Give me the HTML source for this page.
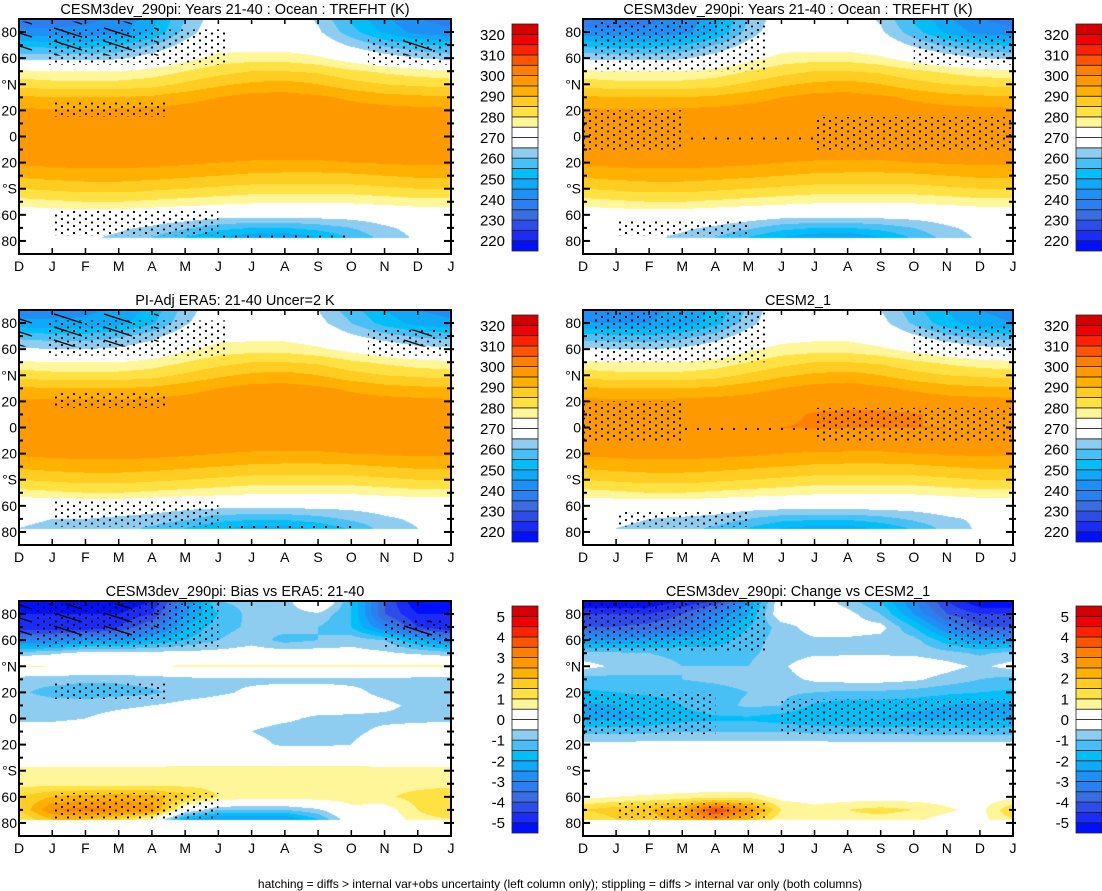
<!DOCTYPE html>
<html><head><meta charset="utf-8">
<style>
body{margin:0;background:#fff;width:1102px;height:891px;overflow:hidden;position:relative;font-family:"Liberation Sans",Arial,sans-serif}
canvas{position:absolute}
svg{position:absolute;left:0;top:0}
</style></head>
<body>
<canvas id="c0" width="432" height="235" style="left:19px;top:19px"></canvas>
<canvas id="c1" width="430" height="235" style="left:583px;top:19px"></canvas>
<canvas id="c2" width="432" height="235" style="left:19px;top:310px"></canvas>
<canvas id="c3" width="430" height="235" style="left:583px;top:310px"></canvas>
<canvas id="c4" width="432" height="235" style="left:19px;top:601px"></canvas>
<canvas id="c5" width="430" height="235" style="left:583px;top:601px"></canvas>
<svg id="ov" width="1102" height="891">
<defs>
<pattern id="dots" width="12" height="7" patternUnits="userSpaceOnUse"><circle cx="2" cy="2" r="1.1" fill="#000"/><circle cx="8" cy="5.5" r="1.1" fill="#000"/></pattern>
<pattern id="hatch" width="50" height="13" patternUnits="userSpaceOnUse"><line x1="4" y1="2" x2="32" y2="11" stroke="#000" stroke-width="1.4"/></pattern>
</defs>
<text x="560" y="888" text-anchor="middle" font-size="12">hatching = diffs &gt; internal var+obs uncertainty (left column only); stippling = diffs &gt; internal var only (both columns)</text>
</svg>
<script>
const lats=[90,80,70,60,50,40,30,20,10,0,-10,-20,-30,-40,-50,-60,-70,-77];
const months=["D","J","F","M","A","M","J","J","A","S","O","N","D","J"];
const tempTicks=["320","310","300","290","280","270","260","250","240","230","220"];
const diffTicks=["5","4","3","2","1","0","-1","-2","-3","-4","-5"];
const latLabels=["80","60","°N","20","0","20","°S","60","80"];
const titles=["CESM3dev_290pi: Years 21-40 : Ocean : TREFHT (K)","CESM3dev_290pi: Years 21-40 : Ocean : TREFHT (K)","PI-Adj ERA5: 21-40 Uncer=2 K","CESM2_1","CESM3dev_290pi: Bias vs ERA5: 21-40","CESM3dev_290pi: Change vs CESM2_1"];
const fieldA=[
[238,238,239,241,248,260,269,271,270,264,254,246,240,238],
[241,241,241,243,250,262,270,272,271,266,257,249,243,241],
[254,253,253,255,260,267,272,272,272,270,264,259,256,254],
[263,263,263,264,268,273,277,278,278,276,272,268,265,263],
[276,275,275,275,277,280,283,285,285,284,281,279,277,276],
[283,282,282,282,283,286,289,291,292,290,287,285,284,283],
[291,290,290,290,291,293,295,297,297,296,294,292,291,291],
[296,295.5,295.5,296,296.5,297,298,298.5,298.5,298.5,297.5,297,296.5,296],
[298,298,298,298,298,298,298.5,299,299,299,298.5,298,298,298],
[298.5,298.5,298.5,298.5,298.5,298.5,298.5,298.5,298.5,298.5,298.5,298.5,298.5,298.5],
[298,298,298,298,298,298,298,297.5,297,297,297.5,298,298,298],
[296,296.5,297,297,296.5,296,295,294.5,294.5,294.5,295,295.5,296,296],
[291,292,292.5,292.5,292,291,290,289,288.5,288.5,289,290,291,291],
[285,286,287,287,286,285,284,283,283,283,283,284,285,285],
[278,279,280,280,279,278,277,276,276,276,276,277,278,278],
[270,271,271,271,270,269,268,268,268,268,268,269,270,270],
[267,267,267,266,264,261,257,255,255,257,260,264,267,267],
[266,266,266,264,260,255,250,247,246,250,256,262,266,266]];
const fieldB=[
[238,238,239,241,248,260,269,271,270,264,254,246,240,238],
[241,241,241,243,250,262,270,272,271,266,257,249,243,241],
[254,253,253,255,260,267,272,272,272,270,264,259,256,254],
[264,263,263,264,268,273,277,278,278,276,272,268,265,264],
[276,275,275,275,277,280,283,285,285,284,281,279,277,276],
[283,282,282,282,283,286,289,291,292,290,287,285,284,283],
[291,290,290,290,291,293,295,297,297,296,294,292,291,291],
[296,295.5,295.5,296,296.5,297,298,298.5,298.5,298.5,297.5,297,296.5,296],
[298,298,298,298,298,298,298.5,299,299,299,298.5,298,298,298],
[298.5,298.5,298.5,298.5,298.5,298.5,298.5,298.5,298.5,298.5,298.5,298.5,298.5,298.5],
[298,298,298,298,298,298,298,297.5,297,297,297.5,298,298,298],
[296,296.5,297,297,296.5,296,295,294.5,294.5,294.5,295,295.5,296,296],
[291,292,292.5,292.5,292,291,290,289,288.5,288.5,289,290,291,291],
[285,286,287,287,286,285,284,283,283,283,283,284,285,285],
[278,279,280,280,279,278,277,276,276,276,276,277,278,278],
[270,271,271,271,270,269,268,268,268,268,268,269,270,270],
[267,267,267,266,264,261,257,255,255,257,260,264,267,267],
[266,266,266,264,260,255,250,247,246,250,256,262,266,266]];
const fieldC=[
[243,243,244,246,252,262,270,271,270,265,257,250,245,243],
[246,246,246,248,254,264,271,272,271,267,260,253,248,246],
[258,257,257,259,263,269,273,273,273,271,266,262,259,258],
[266,265,265,266,269,274,277,278,278,276,273,270,267,266],
[276,275,275,275,277,280,283,285,285,284,281,279,277,276],
[283,282,282,282,283,286,289,291,292,290,287,285,284,283],
[291,290,290,290,291,293,295,297,297,296,294,292,291,291],
[296,296,296,296,296.5,297,298,298.5,298.5,298.5,297.5,297,296.5,296],
[298,298,298,298,298,298,298.5,299,299,299,298.5,298,298,298],
[298.5,298.5,298.5,298.5,298.5,298.5,298.5,298.5,298.5,298.5,298.5,298.5,298.5,298.5],
[298,298,298,298,298,298,298,297.5,297,297,297.5,298,298,298],
[296,296.5,297,297,296.5,296,295,294.5,294.5,294.5,295,295.5,296,296],
[291,292,292.5,292.5,292,291,290,289,288.5,288.5,289,290,291,291],
[285,286,287,287,286,285,284,283,283,283,283,284,285,285],
[278,279,280,280,279,278,277,276,276,276,276,277,278,278],
[269,269,269,269,268,267,267,267,267,267,267,268,269,269],
[266,265,265,264,263,261,257,256,256,258,261,264,266,266],
[265,264,264,262,259,255,251,248,248,251,256,262,265,265]];
const fieldD=[
[243,243,244,246,251,261,270,271,270,265,257,250,245,243],
[245,245,245,247,253,263,270,272,271,267,259,252,247,245],
[257,256,256,258,262,268,272,273,273,271,266,261,258,257],
[266,265,265,266,269,274,277,278,278,276,273,270,267,266],
[276,275,275,275,277,280,283,285,285,284,281,279,277,276],
[283,282,282,282,283,286,289,291,292,290,287,285,284,283],
[291,290,290,290,291,293,295,297,297.5,296,294,292,291,291],
[296.5,296,296,296.5,297,297.5,298.5,299,299,299,298.5,297.5,297,296.5],
[299,299,299,299,299,299,299.5,300.2,300.5,300.5,300.2,299.5,299,299],
[299.5,299.5,299.5,299.5,299.5,299.5,300,300.2,300.2,300.2,300,300,299.5,299.5],
[298.5,298.5,298.5,298.5,298.5,298.5,298.5,298,297.5,297.5,298,298.5,298.5,298.5],
[296,296.5,297,297,296.5,296,295,294.5,294.5,294.5,295,295.5,296,296],
[291,292,292.5,292.5,292,291,290,289,288.5,288.5,289,290,291,291],
[285,286,287,287,286,285,284,283,283,283,283,284,285,285],
[278,279,280,280,279,278,277,276,276,276,276,277,278,278],
[270,270,270,270,269,268,268,268,268,268,268,269,270,270],
[266,266,265,264,263,260,257,256,256,258,261,264,266,266],
[266,265,264,262,259,255,250,248,248,251,256,262,266,266]];
const fieldE=[
[-5.5,-5.5,-5.5,-5.5,-5,-3,-1,-0.8,-0.8,0.6,-1.5,-4,-5.5,-5.5],
[-5,-5,-5,-5,-4.5,-2.5,-1.5,-0.8,-0.8,-0.6,-1.5,-4,-5,-5],
[-5,-5,-5,-4.5,-3.5,-2,-1.2,-0.9,-0.8,-1,-1.5,-3,-4.5,-5],
[-3,-3,-2.5,-2.5,-2,-1.5,-1,-0.7,-1.2,-1,-0.7,-1,-2,-3],
[-0.8,-0.6,-0.3,-0.3,-0.3,-0.3,-0.3,-0.2,-0.2,-0.2,-0.3,-0.4,-0.6,-0.8],
[0.6,0.5,0.2,0.3,0.4,0.6,0.6,0.6,0.6,0.6,0.6,0.6,0.6,0.6],
[-0.8,-0.8,-0.9,-0.9,-0.8,-0.7,-0.6,-0.6,-0.6,-0.6,-0.6,-0.6,-0.7,-0.8],
[-0.9,-1.2,-1.3,-1.2,-1.1,-0.8,-0.6,-0.4,-0.3,-0.3,-0.4,-0.6,-0.8,-0.9],
[-0.7,-0.7,-0.7,-0.6,-0.5,-0.3,-0.2,-0.2,-0.2,-0.2,-0.3,-0.4,-0.6,-0.7],
[-0.6,-0.6,-0.5,-0.3,-0.2,-0.2,-0.2,-0.3,-0.4,-0.6,-0.6,-0.6,-0.6,-0.6],
[-0.2,-0.2,-0.2,-0.2,-0.2,-0.2,-0.2,-0.5,-0.7,-0.7,-0.6,-0.4,-0.3,-0.2],
[-0.2,-0.2,-0.2,-0.2,-0.2,-0.2,-0.2,-0.3,-0.6,-0.6,-0.5,-0.2,-0.2,-0.2],
[0.2,0.2,0.2,0.2,0.2,0.2,0.2,0.2,0.2,0.2,0.2,0.2,0.2,0.2],
[0.6,0.6,0.6,0.6,0.6,0.7,0.7,0.7,0.7,0.7,0.7,0.6,0.6,0.6],
[0.8,0.8,0.8,0.8,0.8,0.8,0.8,0.8,0.8,0.8,0.8,0.8,0.8,0.8],
[1.5,2,2.2,2.3,2.2,1.7,1,0.8,0.8,0.8,0.8,0.9,1.2,1.5],
[1.5,3,3.2,3,2.8,0,-1,-1,-1,-0.6,0.3,0.2,1,1.5],
[1,2,2,1.5,0.5,-2,-2.5,-2.5,-2.5,-1.5,0,0,0.8,1]];
const fieldF=[
[-5.5,-5.5,-5.5,-5,-4.5,-2.5,0,0,-0.8,-1.5,-3,-4.5,-5.5,-5.5],
[-4.5,-4.5,-4.5,-4,-3,-2,0,0,-0.3,-1,-2.5,-4,-4.5,-4.5],
[-4,-4,-3.8,-3.5,-2.5,-1.5,-0.8,-0.2,-0.2,-0.3,-1.5,-3,-4,-4],
[-2.5,-2.5,-2.2,-2,-1.8,-1.2,-0.8,-0.6,-0.6,-0.7,-0.8,-1.8,-2.5,-2.5],
[-0.8,-0.9,-1,-1.1,-1.2,-1.1,-0.8,-0.6,-0.6,-0.6,-0.6,-0.8,-1.1,-0.8],
[-0.3,-0.6,-0.8,-1,-1,-1,-0.6,-0.1,0,0,-0.1,-0.3,-0.6,-0.3],
[-1.2,-1.2,-1.1,-1,-0.9,-0.8,-0.7,-0.4,-0.3,-0.3,-0.4,-0.7,-1,-1.2],
[-1.6,-1.5,-1.4,-1.3,-1.2,-1,-0.9,-1,-1.1,-1.1,-1.2,-1.4,-1.5,-1.6],
[-2.1,-2,-1.8,-1.5,-1.2,-0.9,-1,-1.6,-1.8,-1.8,-1.9,-2,-2.1,-2.1],
[-2.1,-2.1,-2,-1.7,-1.6,-1.6,-1.8,-2,-2,-2,-2.1,-2.1,-2.1,-2.1],
[-1.2,-1.2,-1.1,-1,-1,-1,-1,-1.1,-1.2,-1.2,-1.2,-1.3,-1.3,-1.2],
[-0.3,-0.3,-0.3,-0.3,-0.3,-0.3,-0.3,-0.3,-0.3,-0.3,-0.3,-0.3,-0.3,-0.3],
[0,0,0,0,0,0,0,0,0,0,0,0,0,0],
[0,0,0,0,0,0,0,0,0,0,0,0,0,0],
[0,0,0,0,0,0,0,0,0,0,0,0,0,0],
[0.3,0.5,0.6,0.7,0.8,0.8,0.3,0.2,0.2,0.2,0.2,0.2,0.2,0.3],
[1.5,1.8,2,2.5,4,3,1,0.7,1,1.2,1,0.6,0.3,1.5],
[1,1.5,1.8,2.2,3,2,0.6,0.6,0.8,0.8,0.6,0.3,0.3,1]];
const stipA=[[82,55,0.8,6.2],[75,55,10.5,13],[27,15,1,4.5],[-56,-76,1,6],[-75,-78,6,10]];
const stipB=[[88,50,0.3,5.5],[78,55,10,13],[20,-10,0,3],[0,-3,3,7],[15,-10,7,13],[-64,-76,1,5]];
const stipE=[[88,55,0.5,6],[75,55,11,13],[27,15,1,4.5],[-57,-77,1,6]];
const stipF=[[88,52,0,5.5],[80,55,11,13],[20,-12,0,4],[15,-12,6,13],[-65,-76,1,5.5]];
const hatchA=[[88,62,0,4.2],[75,62,11,13]];
const panels=[
 {f:fieldA,t:"temp",st:stipA,h:hatchA},{f:fieldB,t:"temp",st:stipB,h:[]},
 {f:fieldC,t:"temp",st:stipA,h:hatchA},{f:fieldD,t:"temp",st:stipB,h:[]},
 {f:fieldE,t:"diff",st:stipE,h:hatchA},{f:fieldF,t:"diff",st:stipF,h:[]}];
const colorsBottomUp=["#0010ff","#1c2cf8","#2e4ce8","#3a6ee0","#2c7ff0","#1e90f5","#10a8f8","#00bff8","#48c0f5","#8fcdf0","#ffffff","#ffffff","#fff599","#ffe144","#ffcc22","#ffb000","#ff9900","#ff7f00","#ff5500","#ff2200","#f00000","#d40000"];
const PX=[19,583],PY=[19,310,601],PW=[432,430],PH=235;
function valAt(f,lat,t){
 if(lat<-77.5)return null;
 let i=0;while(i<lats.length-2&&lat<lats[i+1])i++;
 let a=(lats[i]-lat)/(lats[i]-lats[i+1]);a=Math.max(0,Math.min(1,a));
 let j=Math.min(12,Math.floor(t)),b=t-j;
 const v0=f[i][j]*(1-b)+f[i][j+1]*b,v1=f[i+1][j]*(1-b)+f[i+1][j+1]*b;
 return v0*(1-a)+v1*a;}
function colorOf(v,type){let k=type==="temp"?Math.floor((v-215)/5):Math.floor((v+5.5)/0.5);k=Math.max(0,Math.min(21,k));return colorsBottomUp[k];}
function hex(c){return [parseInt(c.substr(1,2),16),parseInt(c.substr(3,2),16),parseInt(c.substr(5,2),16)];}
const NS="http://www.w3.org/2000/svg",ov=document.getElementById('ov');
function el(tag,attrs,parent){const e=document.createElementNS(NS,tag);for(const k in attrs)e.setAttribute(k,attrs[k]);(parent||ov).appendChild(e);return e;}
panels.forEach((p,n)=>{
 const col=n%2,row=Math.floor(n/2),x0=PX[col],y0=PY[row],w=PW[col];
 const yS=lat=>y0+(90-lat)/180*PH, xS=t=>x0+t/13*w;
 const cv=document.getElementById('c'+n),ctx=cv.getContext('2d'),img=ctx.createImageData(w,PH);
 for(let yy=0;yy<PH;yy++){const lat=90-(yy+0.5)/PH*180;
  for(let xx=0;xx<w;xx++){const t=(xx+0.5)/w*13,v=valAt(p.f,lat,t);
   const c=v===null?[255,255,255]:hex(colorOf(v,p.t)),o=(yy*w+xx)*4;
   img.data[o]=c[0];img.data[o+1]=c[1];img.data[o+2]=c[2];img.data[o+3]=255;}}
 ctx.putImageData(img,0,0);
 const g=el('g',{});
 
 
 p.st.forEach(r=>{const s=el('rect',{x:xS(r[2]),y:yS(r[0]),width:xS(r[3])-xS(r[2]),height:yS(r[1])-yS(r[0]),fill:'url(#dots)'},g);
  
  });
 p.h.forEach(r=>{const s=el('rect',{x:xS(r[2]),y:yS(r[0]),width:xS(r[3])-xS(r[2]),height:yS(r[1])-yS(r[0]),fill:'url(#hatch)'},g);
  
  });
 const fr=el('rect',{x:x0,y:y0,width:w,height:PH,fill:'none',stroke:'#000','stroke-width':2},g);
 
 
 for(let lat=-80;lat<=80;lat+=10){const y=yS(lat),L=lat%20===0?7:4;
  el('line',{x1:x0,y1:y,x2:x0+L,y2:y,stroke:'#000','stroke-width':2},g);
  el('line',{x1:x0+w-L,y1:y,x2:x0+w+3,y2:y,stroke:'#000','stroke-width':2},g);}
 latLabels.forEach((s,i)=>{const t=el('text',{x:x0-2,y:yS(80-20*i)+5,'text-anchor':'end','font-size':14},g);t.textContent=s;
  
  });
 months.forEach((m,i)=>{const x=xS(i);
  el('line',{x1:x,y1:y0+PH,x2:x,y2:y0+PH-6,stroke:'#000','stroke-width':1.5},g);
  el('line',{x1:x,y1:y0,x2:x,y2:y0+5,stroke:'#000','stroke-width':1.5},g);
  const t=el('text',{x:x,y:y0+PH+17,'text-anchor':'middle','font-size':14},g);t.textContent=m;
  
  });
 const tt=el('text',{x:x0+w/2,y:y0-5,'text-anchor':'middle','font-size':14.5},g);tt.textContent=titles[n];
 
 
 const cx=col===0?512:1076,cy=y0+5,ch=227,bh=ch/22;
 const cb=el('g',{});
 
 
 for(let k=0;k<22;k++){const r=el('rect',{x:cx,y:cy+(21-k)*bh,width:26,height:bh,fill:colorsBottomUp[k],stroke:'#222','stroke-width':0.8},cb);
  
  }
 const ticks=p.t==="temp"?tempTicks:diffTicks;
 ticks.forEach((s,i)=>{const t=el('text',{x:cx-7,y:cy+bh*(1+2*i)+5.5,'text-anchor':'end','font-size':15},cb);t.textContent=s;
  
  });
});
</script>
</body></html>
